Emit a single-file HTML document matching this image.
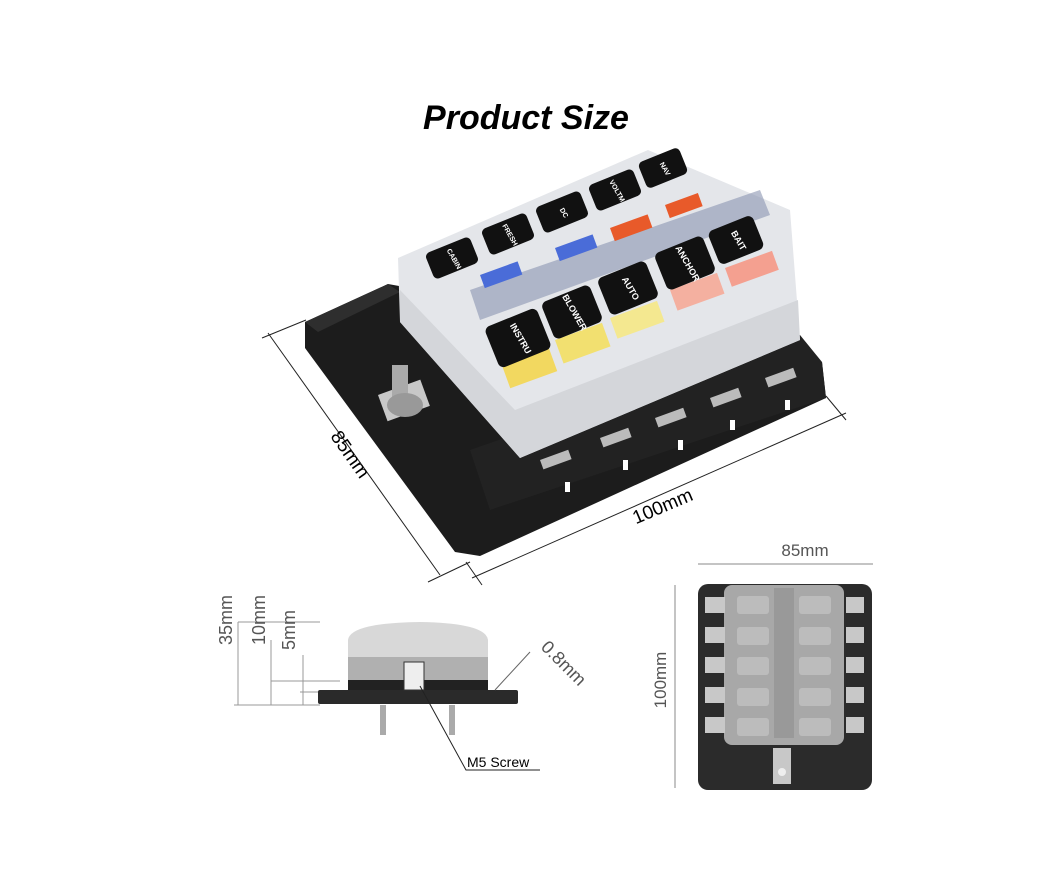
<!DOCTYPE html>
<html><head><style>
body{margin:0;background:#fff;width:1060px;height:884px;overflow:hidden;font-family:"Liberation Sans",sans-serif}
</style></head><body>
<svg width="1060" height="884" viewBox="0 0 1060 884" xmlns="http://www.w3.org/2000/svg" font-family="Liberation Sans, sans-serif">
<text x="526" y="129" font-size="34" font-weight="bold" font-style="italic" text-anchor="middle">Product Size</text>

<polygon points="305,322 388,284 822,362 826,398 480,556 455,552 305,348" fill="#1c1c1c"/>
<polygon points="305,322 388,284 400,292 318,332" fill="#2e2e2e"/>
<polygon points="470,450 800,335 822,362 826,398 490,510" fill="#222"/>
<g fill="#bbb">
<rect x="540" y="460" width="30" height="10" transform="rotate(-20 540 460)"/>
<rect x="600" y="438" width="30" height="10" transform="rotate(-20 600 438)"/>
<rect x="655" y="418" width="30" height="10" transform="rotate(-20 655 418)"/>
<rect x="710" y="398" width="30" height="10" transform="rotate(-20 710 398)"/>
<rect x="765" y="378" width="30" height="10" transform="rotate(-20 765 378)"/>
</g>
<g fill="#fff">
<rect x="565" y="482" width="5" height="10"/><rect x="623" y="460" width="5" height="10"/>
<rect x="678" y="440" width="5" height="10"/><rect x="730" y="420" width="5" height="10"/><rect x="785" y="400" width="5" height="10"/>
</g>
<rect x="378" y="395" width="45" height="28" fill="#c8c8c8" transform="rotate(-20 378 395)"/>
<rect x="392" y="365" width="16" height="40" fill="#aaa"/>
<ellipse cx="405" cy="405" rx="18" ry="12" fill="#999"/>
<polygon points="398,258 648,150 790,210 800,340 520,458 400,322" fill="#e4e6ea"/>
<polygon points="400,322 520,458 800,340 798,300 515,410 400,290" fill="#d4d6da"/>
<polygon points="470,290 760,190 770,215 480,320" fill="#8a94b0" opacity="0.6"/>
<rect x="480" y="275" width="40" height="14" fill="#4a6cd8" transform="rotate(-20 480 275)"/>
<rect x="555" y="248" width="40" height="14" fill="#4a6cd8" transform="rotate(-20 555 248)"/>
<rect x="610" y="228" width="40" height="14" fill="#e85a2a" transform="rotate(-20 610 228)"/>
<rect x="665" y="205" width="35" height="14" fill="#e85a2a" transform="rotate(-20 665 205)"/>
<rect x="500" y="360" width="50" height="30" fill="#f2d860" transform="rotate(-20 500 360)"/>
<rect x="555" y="340" width="50" height="25" fill="#f2e070" transform="rotate(-20 555 340)"/>
<rect x="610" y="318" width="50" height="22" fill="#f4e890" transform="rotate(-20 610 318)"/>
<rect x="670" y="290" width="50" height="22" fill="#f4b0a0" transform="rotate(-20 670 290)"/>
<rect x="725" y="268" width="50" height="20" fill="#f4a090" transform="rotate(-20 725 268)"/>
<g fill="#111">
<g transform="translate(452,258) rotate(-22)"><rect x="-24" y="-14" width="48" height="28" rx="5"/></g>
<g transform="translate(508,234) rotate(-22)"><rect x="-24" y="-14" width="48" height="28" rx="5"/></g>
<g transform="translate(562,212) rotate(-22)"><rect x="-24" y="-14" width="48" height="28" rx="5"/></g>
<g transform="translate(615,190) rotate(-22)"><rect x="-24" y="-14" width="48" height="28" rx="5"/></g>
<g transform="translate(663,168) rotate(-22)"><rect x="-22" y="-14" width="44" height="28" rx="5"/></g>
<g transform="translate(518,338) rotate(-22)"><rect x="-28" y="-22" width="56" height="44" rx="6"/></g>
<g transform="translate(572,312) rotate(-22)"><rect x="-26" y="-20" width="52" height="40" rx="6"/></g>
<g transform="translate(628,288) rotate(-22)"><rect x="-26" y="-20" width="52" height="40" rx="6"/></g>
<g transform="translate(685,263) rotate(-22)"><rect x="-26" y="-20" width="52" height="40" rx="6"/></g>
<g transform="translate(736,240) rotate(-22)"><rect x="-24" y="-18" width="48" height="36" rx="6"/></g>
</g>
<g fill="#fff" font-size="7" font-weight="bold" text-anchor="middle">
<text transform="translate(452,260) rotate(60)">CABIN</text>
<text transform="translate(508,236) rotate(60)">FRESH</text>
<text transform="translate(562,214) rotate(60)">DC</text>
<text transform="translate(615,192) rotate(60)">VOLTM</text>
<text transform="translate(663,170) rotate(60)">NAV</text>
<text transform="translate(518,340) rotate(60)" font-size="9">INSTRU</text>
<text transform="translate(572,314) rotate(60)" font-size="9">BLOWER</text>
<text transform="translate(628,290) rotate(60)" font-size="9">AUTO</text>
<text transform="translate(685,265) rotate(60)" font-size="9">ANCHOR</text>
<text transform="translate(736,242) rotate(60)" font-size="9">BAIT</text>
</g>
<g stroke="#222" stroke-width="1" fill="none">
<line x1="268" y1="333" x2="440" y2="575"/>
<line x1="262" y1="338" x2="306" y2="320"/>
<line x1="428" y1="582" x2="470" y2="562"/>
<line x1="472" y1="578" x2="846" y2="413"/>
<line x1="466" y1="562" x2="482" y2="585"/>
<line x1="826" y1="396" x2="846" y2="420"/>
</g>
<text transform="translate(345,458) rotate(55)" font-size="19" text-anchor="middle">85mm</text>
<text transform="translate(665,512) rotate(-23)" font-size="19" text-anchor="middle">100mm</text>

<g stroke="#999" stroke-width="1">
<line x1="238" y1="622" x2="238" y2="705"/><line x1="271" y1="640" x2="271" y2="705"/><line x1="303" y1="655" x2="303" y2="705"/>
<line x1="234" y1="705" x2="320" y2="705"/><line x1="238" y1="622" x2="320" y2="622"/>
<line x1="271" y1="681" x2="340" y2="681"/><line x1="300" y1="692" x2="330" y2="692"/>
</g>
<text transform="translate(232,645) rotate(-90)" font-size="18" fill="#555">35mm</text>
<text transform="translate(265,645) rotate(-90)" font-size="18" fill="#555">10mm</text>
<text transform="translate(295,650) rotate(-90)" font-size="18" fill="#555">5mm</text>
<path d="M348,688 L348,640 Q350,623 420,622 Q486,623 488,640 L488,688 Z" fill="#d8d8d8"/>
<rect x="348" y="657" width="140" height="28" fill="#b0b0b0"/>
<rect x="348" y="680" width="140" height="10" fill="#222"/>
<rect x="318" y="690" width="200" height="14" rx="2" fill="#2a2a2a"/>
<rect x="404" y="662" width="20" height="28" fill="#eee" stroke="#333"/>
<rect x="380" y="705" width="6" height="30" fill="#aaa"/><rect x="449" y="705" width="6" height="30" fill="#aaa"/>
<polyline points="420,686 466,770 540,770" fill="none" stroke="#222"/>
<text x="467" y="767" font-size="14">M5 Screw</text>
<line x1="495" y1="690" x2="530" y2="652" stroke="#666"/>
<text transform="translate(540,648) rotate(45)" font-size="18" fill="#555">0.8mm</text>

<g stroke="#888"><line x1="698" y1="564" x2="873" y2="564"/><line x1="675" y1="585" x2="675" y2="788"/></g>
<text x="805" y="556" font-size="17" fill="#555" text-anchor="middle">85mm</text>
<text transform="translate(666,680) rotate(-90)" font-size="17" fill="#555" text-anchor="middle">100mm</text>
<rect x="698" y="584" width="174" height="206" rx="10" fill="#2b2b2b"/>
<rect x="724" y="585" width="120" height="160" rx="8" fill="#a8a8a8"/>
<g fill="#c8c8c8">
<rect x="705" y="597" width="20" height="16"/><rect x="705" y="627" width="20" height="16"/><rect x="705" y="657" width="20" height="16"/><rect x="705" y="687" width="20" height="16"/><rect x="705" y="717" width="20" height="16"/>
<rect x="846" y="597" width="18" height="16"/><rect x="846" y="627" width="18" height="16"/><rect x="846" y="657" width="18" height="16"/><rect x="846" y="687" width="18" height="16"/><rect x="846" y="717" width="18" height="16"/>
<rect x="773" y="748" width="18" height="36"/>
</g>
<g fill="#bcbcbc">
<rect x="737" y="596" width="32" height="18" rx="3"/><rect x="799" y="596" width="32" height="18" rx="3"/>
<rect x="737" y="627" width="32" height="18" rx="3"/><rect x="799" y="627" width="32" height="18" rx="3"/>
<rect x="737" y="657" width="32" height="18" rx="3"/><rect x="799" y="657" width="32" height="18" rx="3"/>
<rect x="737" y="688" width="32" height="18" rx="3"/><rect x="799" y="688" width="32" height="18" rx="3"/>
<rect x="737" y="718" width="32" height="18" rx="3"/><rect x="799" y="718" width="32" height="18" rx="3"/>
</g>
<rect x="774" y="588" width="20" height="150" fill="#999"/>
<circle cx="782" cy="772" r="4" fill="#eee"/>
</svg>
</body></html>
